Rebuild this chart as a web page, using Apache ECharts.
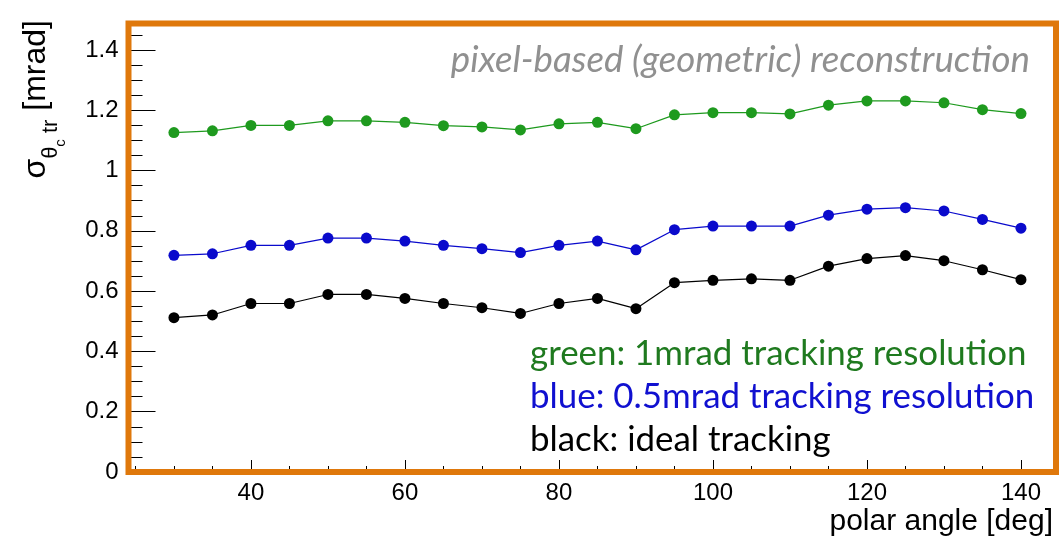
<!DOCTYPE html>
<html>
<head>
<meta charset="utf-8">
<script src="https://cdn.jsdelivr.net/npm/echarts@6/dist/echarts.min.js"></script>
<style>
  html, body { margin: 0; padding: 0; background: #ffffff; }
  #chart { width: 1063px; height: 539px; }
</style>
</head>
<body>
<div id="chart"></div>
<script>
// Polar angle of the track [deg]
const polarAngle = [30, 35, 40, 45, 50, 55, 60, 65, 70, 75, 80, 85, 90, 95, 100, 105, 110, 115, 120, 125, 130, 135, 140];

// Cherenkov angle resolution per track [mrad]
const sigmaTrack1mrad  = [1.126, 1.132, 1.150, 1.150, 1.165, 1.165, 1.160, 1.149, 1.145, 1.135, 1.155, 1.160, 1.139,
                          1.185, 1.192, 1.192, 1.188, 1.217, 1.231, 1.231, 1.225, 1.202, 1.189];
const sigmaTrack05mrad = [0.719, 0.724, 0.752, 0.752, 0.776, 0.776, 0.766, 0.752, 0.741, 0.728, 0.752, 0.766, 0.737,
                          0.804, 0.816, 0.816, 0.816, 0.852, 0.872, 0.877, 0.866, 0.838, 0.809];
const sigmaTrackIdeal  = [0.512, 0.521, 0.559, 0.559, 0.589, 0.589, 0.576, 0.559, 0.545, 0.526, 0.559, 0.576, 0.542,
                          0.628, 0.636, 0.641, 0.636, 0.683, 0.708, 0.718, 0.701, 0.671, 0.638];

// Axis ticks
const xMajorTicks = [40, 60, 80, 100, 120, 140];
const xMinorTicks = [25, 30, 35, 45, 50, 55, 65, 70, 75, 85, 90, 95, 105, 110, 115, 125, 130, 135];
const yMajorTicks = [0, 0.2, 0.4, 0.6, 0.8, 1, 1.2, 1.4];
const yMinorTicks = [0.05, 0.1, 0.15, 0.25, 0.3, 0.35, 0.45, 0.5, 0.55, 0.65, 0.7, 0.75, 0.85, 0.9, 0.95,
                     1.05, 1.1, 1.15, 1.25, 1.3, 1.35, 1.45];

// Texts
const yTitleRich = '{m|σ}{s|θ}{ss|c}{s| tr}{m| [mrad]}';
const xTitle = 'polar angle [deg]';
const methodNote = 'pixel-based (geometric) reconstruction';
const noteLines = [
  { text: 'green: 1mrad tracking resolution', color: '#1f7a1f' },
  { text: 'blue: 0.5mrad tracking resolution', color: '#1010d0' },
  { text: 'black: ideal tracking', color: '#000000' }
];

const X_RANGE = [24.1, 144.55];
const Y_RANGE = [0, 1.488];
const W = 1063, H = 539;
const GRID = { left: 128.5, right: 7, top: 23.5, bottom: 67 };
const FRAME_COLOR = '#df780b';
const AXIS_FONT = '"Liberation Sans", Arial, Helvetica, sans-serif';
const NOTE_FONT = 'Lato, "Open Sans", sans-serif';

function fitFontSize(text, family, style, targetWidth) {
  const ctx = document.createElement('canvas').getContext('2d');
  ctx.font = style + ' 100px ' + family;
  return 100 * targetWidth / ctx.measureText(text).width;
}

const chart = echarts.init(document.getElementById('chart'), null, { renderer: 'canvas' });

function tickAxis(range, ticks, len, withLabels, extra) {
  return Object.assign({
    type: 'value',
    min: range[0],
    max: range[1],
    axisLine: { show: false },
    splitLine: { show: false },
    axisTick: { show: true, inside: true, length: len, customValues: ticks,
                lineStyle: { color: '#000', width: 1 } },
    axisLabel: withLabels
      ? { show: true, customValues: ticks, color: '#000', fontFamily: AXIS_FONT, fontSize: 24, margin: 10,
          formatter: v => String(Math.round(v * 10) / 10) }
      : { show: false }
  }, extra);
}

function lineSeries(data, color) {
  return {
    type: 'line',
    xAxisIndex: 0,
    yAxisIndex: 0,
    data: polarAngle.map((a, i) => [a, data[i]]),
    symbol: 'circle',
    symbolSize: 11,
    lineStyle: { color: color, width: 1.2 },
    itemStyle: { color: color },
    z: 3,
    animation: false
  };
}

const plotW = W - GRID.left - GRID.right;
const plotH = H - GRID.top - GRID.bottom;
const noteSize = fitFontSize(noteLines[0].text, NOTE_FONT, 'normal', 497);
const italicSize = fitFontSize(methodNote, NOTE_FONT, 'italic', 579);

const graphics = [
  // orange highlight frame around the plot area
  {
    type: 'rect', z: 50, silent: true,
    shape: { x: GRID.left, y: GRID.top, width: plotW, height: plotH },
    style: { fill: 'none', stroke: FRAME_COLOR, lineWidth: 6 }
  },
  {
    type: 'text', z: 60, x: 1030, y: 60,
    style: { text: methodNote, fill: '#909090', font: 'italic ' + italicSize.toFixed(1) + 'px ' + NOTE_FONT,
             align: 'right', verticalAlign: 'middle' }
  },
  {
    type: 'text', z: 60, x: 1053, y: 522,
    style: { text: xTitle, fill: '#000', font: '30px ' + AXIS_FONT, align: 'right', verticalAlign: 'middle' }
  },
  {
    type: 'text', z: 60, x: 68, y: 20, rotation: Math.PI / 2,
    style: {
      text: yTitleRich, fill: '#000', fontFamily: AXIS_FONT, align: 'right', verticalAlign: 'bottom',
      rich: {
        m:  { fontFamily: AXIS_FONT, fontSize: 32, lineHeight: 32, verticalAlign: 'bottom', padding: [0, 0, 16, 0] },
        s:  { fontFamily: AXIS_FONT, fontSize: 22, lineHeight: 22, verticalAlign: 'bottom', padding: [0, 0, 6, 0] },
        ss: { fontFamily: AXIS_FONT, fontSize: 15, lineHeight: 15, verticalAlign: 'bottom', padding: [0, 0, 0, 0] }
      }
    }
  }
];
noteLines.forEach((ln, i) => {
  graphics.push({
    type: 'text', z: 60, x: 530, y: 354 + i * 43,
    style: { text: ln.text, fill: ln.color, font: noteSize.toFixed(1) + 'px ' + NOTE_FONT,
             align: 'left', verticalAlign: 'middle' }
  });
});

chart.setOption({
  animation: false,
  backgroundColor: '#ffffff',
  grid: { left: GRID.left, right: GRID.right, top: GRID.top, bottom: GRID.bottom, containLabel: false },
  xAxis: [
    tickAxis(X_RANGE, xMajorTicks, 12, true, { position: 'bottom', axisLabel: {
      show: true, customValues: xMajorTicks, color: '#000', fontFamily: AXIS_FONT, fontSize: 24, margin: 9 } }),
    tickAxis(X_RANGE, xMinorTicks, 6, false, { position: 'bottom' })
  ],
  yAxis: [
    tickAxis(Y_RANGE, yMajorTicks, 27, true, { position: 'left' }),
    tickAxis(Y_RANGE, yMinorTicks, 14, false, { position: 'left' })
  ],
  series: [
    lineSeries(sigmaTrack1mrad, '#1e9a1e'),
    lineSeries(sigmaTrack05mrad, '#0a0acc'),
    lineSeries(sigmaTrackIdeal, '#000000')
  ],
  graphic: graphics
});
</script>
</body>
</html>
